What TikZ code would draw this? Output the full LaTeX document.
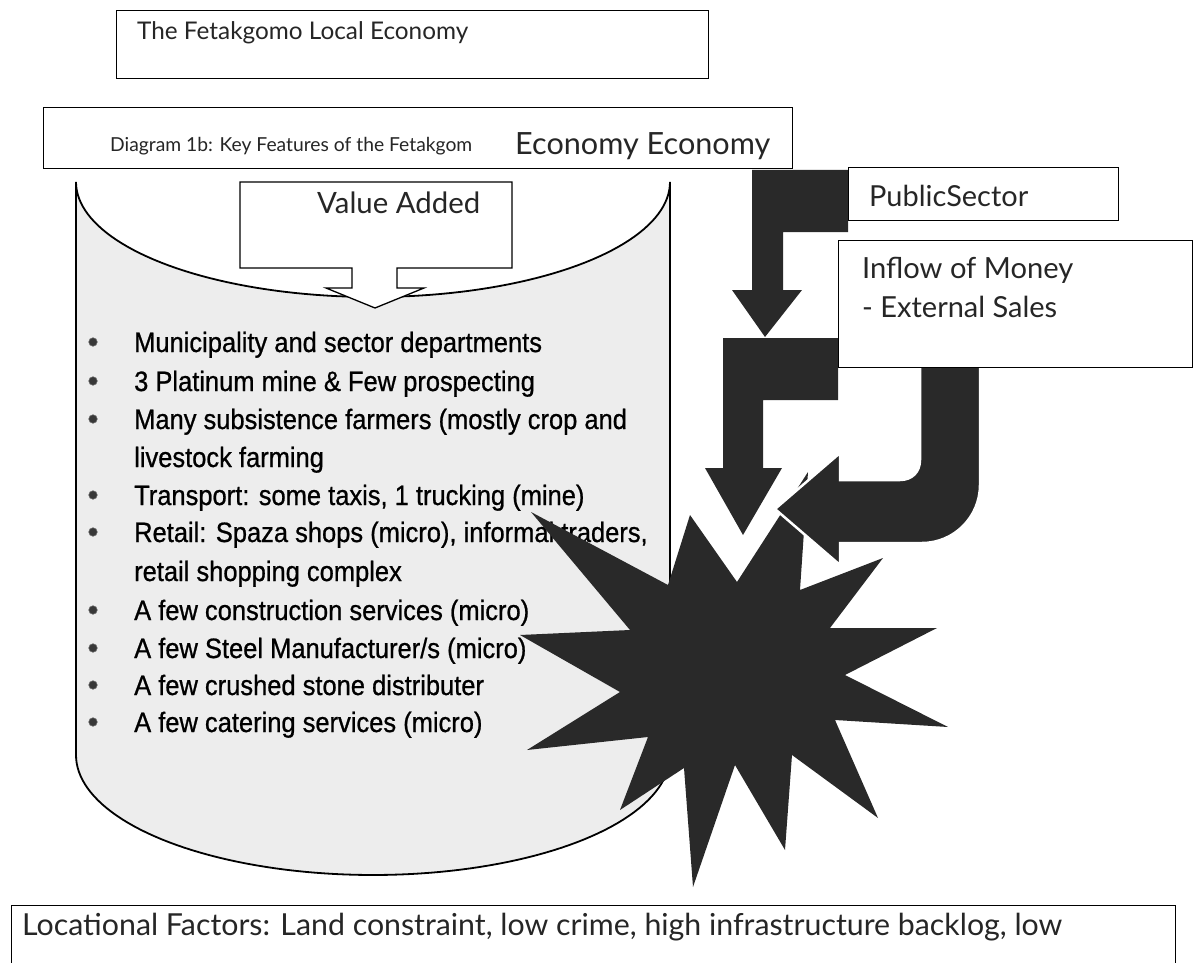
\documentclass[tikz,border=0pt]{standalone}
\usepackage{fontspec}
\setmainfont{Lato}
\newfontfamily\narrowfont[FakeStretch=0.91,FakeBold=0.8]{Liberation Sans}
\newfontfamily\lightfont{Lato}
\newcommand\fitw[2]{\resizebox{#1pt}{!}{#2}}
\begin{document}
\begin{tikzpicture}[x=1pt,y=-1pt,
  boxline/.style={draw=black, line width=1.3pt, fill=white, inner sep=0pt, anchor=north west},
  canfill/.style={fill=black!7},
  canline/.style={draw=black, line width=1.8pt},
  callout/.style={draw=black, line width=1.3pt, fill=white},
  darkfill/.style={fill=black!84, draw=none},
  uarrow/.style={fill=black!84, draw=white, line width=2.5pt, line join=miter},
  itemtext/.style={anchor=base west, inner sep=0pt, font=\narrowfont\fontsize{28}{30}\selectfont},
  lighttext/.style={anchor=base west, inner sep=0pt, text=black!85, font=\lightfont\fontsize{24}{28}\selectfont},
  bulletdot/.style={circle, fill=black!78, draw=black!60, line width=0.6pt, minimum size=8.5pt, inner sep=0pt}
]
\useasboundingbox (0,0) rectangle (1195,963);
\clip (0,0) rectangle (1195,963);

% ---------- cylinder ----------
\path[canfill] (76,182) -- (76,755)
  -- plot[domain=180:0,samples=90] ({373+297*cos(\x)},{755+120*sin(\x)})
  -- (670,182)
  -- plot[domain=0:180,samples=90] ({373+297*cos(\x)},{182+115*sin(\x)}) -- cycle;
\draw[canline] (76,182) -- (76,755)
  -- plot[domain=180:0,samples=90] ({373+297*cos(\x)},{755+120*sin(\x)})
  -- (670,182)
  -- plot[domain=0:180,samples=90] ({373+297*cos(\x)},{182+115*sin(\x)});

% ---------- value added callout ----------
\draw[callout] (240,182) -- (512,182) -- (512,268) -- (397,268) -- (397,288) -- (424,288)
  -- (375,308) -- (326,288) -- (352,288) -- (352,268) -- (240,268) -- cycle;
\node[lighttext] (vatxt) at (317,213) {\fitw{163}{Value Added}};

% ---------- list ----------
\foreach \i/\yy in {1/342,2/381,3/419,4/495,5/532,6/610,7/648,8/685,9/722}
  \node[bulletdot] (b\i) at (93,\yy) {};
\node[itemtext] (t1) at (134,352) {Municipality and sector departments};
\node[itemtext] (t2) at (134,391) {3 Platinum mine \& Few prospecting};
\node[itemtext] (t3) at (134,429) {Many subsistence farmers (mostly crop and};
\node[itemtext] (t3b) at (134,467) {livestock farming};
\node[itemtext] (t4) at (134,505) {Transport: some taxis, 1 trucking (mine)};
\node[itemtext] (t5) at (134,542) {Retail: Spaza shops (micro), informal traders,};
\node[itemtext] (t5b) at (134,581) {retail shopping complex};
\node[itemtext] (t6) at (134,620) {A few construction services (micro)};
\node[itemtext] (t7) at (134,658) {A few Steel Manufacturer/s (micro)};
\node[itemtext] (t8) at (134,695) {A few crushed stone distributer};
\node[itemtext] (t9) at (134,732) {A few catering services (micro)};

% ---------- star ----------
\fill[darkfill] (690,515) -- (668,585) -- (531,512) -- (630,630) -- (520,635) -- (620,692)
  -- (527,750) -- (648,737) -- (620,810) -- (684,768) -- (693,887) -- (735,765)
  -- (785,850) -- (792,755) -- (878,818) -- (835,720) -- (948,727) -- (845,675)
  -- (937,628) -- (830,628) -- (883,558) -- (800,590) -- (808,472) -- (737,582) -- cycle;

% ---------- arrows ----------
\fill[darkfill] (848,170) -- (752,170) -- (752,290) -- (732,290) -- (765,337) -- (802,290)
  -- (783,290) -- (783,232) -- (848,232) -- cycle;
\fill[darkfill] (838,338) -- (723,338) -- (723,468) -- (705,468) -- (743,535) -- (782,468)
  -- (763,468) -- (763,400) -- (838,400) -- cycle;
\draw[uarrow] (920,350) -- (920,460) .. controls (920,472) and (912,480) .. (900,480)
  -- (840,480) -- (840,453) -- (775,509) -- (840,565) -- (840,543) -- (922,543)
  .. controls (954,543) and (980,517) .. (980,485) -- (980,350) -- cycle;

% ---------- boxes ----------
\node[boxline, minimum width=270pt, minimum height=53pt] (pubbox) at (848,167) {};
\node[lighttext] (pubtxt) at (869,207) {\fitw{159}{PublicSector}};

\node[boxline, minimum width=354pt, minimum height=127pt] (inbox) at (838,240) {};
\node[lighttext] (intxt1) at (862,278) {\fitw{211}{Inflow of Money}};
\node[lighttext] (intxt2) at (862,317) {\fitw{195}{- External Sales}};

\node[boxline, minimum width=592pt, minimum height=68pt] (titlebox) at (116,10) {};
\node[lighttext] (titletxt) at (137,40) {\fitw{331}{The Fetakgomo Local Economy}};

\node[boxline, minimum width=749pt, minimum height=61pt] (diagbox) at (43,107) {};
\node[lighttext] (diagtxt) at (110,152) {\fitw{362}{Diagram 1b: Key Features of the Fetakgom}};
\node[lighttext] (diagtxt2) at (515,154) {\fitw{255}{Economy Economy}};

\node[boxline, minimum width=1164pt, minimum height=80pt] (locbox) at (11,905) {};
\node[lighttext] (loctxt) at (22,935) {\fitw{1040}{Locational Factors: Land constraint, low crime, high infrastructure backlog, low}};
\end{tikzpicture}
\end{document}
